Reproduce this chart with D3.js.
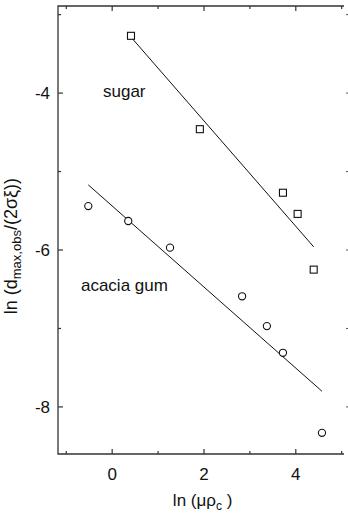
<!DOCTYPE html>
<html>
<head>
<meta charset="utf-8">
<script src="https://cdn.jsdelivr.net/npm/d3@7"></script>
<style>
  body { margin: 0; background: #fff; }
  text { font-family: "Liberation Sans", Arial, sans-serif; fill: #111; }
</style>
</head>
<body>
<div id="chart"></div>
<script>
// data
var sugarX = [0.41, 1.91, 3.72, 4.04, 4.39];
var sugarY = [-3.27, -4.46, -5.27, -5.54, -6.25];
var sugarFitX = [0.43, 4.39];
var sugarFitY = [-3.30, -5.96];

var gumX = [-0.52, 0.35, 1.26, 2.83, 3.37, 3.72, 4.57];
var gumY = [-5.44, -5.63, -5.97, -6.59, -6.97, -7.31, -8.33];
var gumFitX = [-0.52, 4.57];
var gumFitY = [-5.17, -7.80];

var xMajor = [0, 2, 4];
var xMinor = [-1, 1, 3, 5];
var yMajor = [-8, -6, -4];
var yMinor = [-7, -5, -3];

var W = 348, H = 515;
var margin = {top: 6, right: 4, bottom: 61, left: 58},
    width = W - margin.left - margin.right,
    height = H - margin.top - margin.bottom;

var svg = d3.select("#chart").append("svg")
  .attr("width", W).attr("height", H)
  .append("g")
  .attr("transform", "translate(" + margin.left + "," + margin.top + ")");

var x = d3.scaleLinear().domain([-1.18, 5.05]).range([0, width]);
var y = d3.scaleLinear().domain([-8.6, -2.89]).range([height, 0]);

// frame (no visible right side)
svg.append("path")
  .attr("d", "M" + width + ",0H0V" + height + "H" + width)
  .attr("fill", "none").attr("stroke", "#333").attr("stroke-width", 1.3);

// ticks, pointing inward
function xTicks(vals, len) {
  vals.forEach(function(v) {
    svg.append("line").attr("x1", x(v)).attr("x2", x(v))
      .attr("y1", height).attr("y2", height - len)
      .attr("stroke", "#333").attr("stroke-width", 1.2);
    svg.append("line").attr("x1", x(v)).attr("x2", x(v))
      .attr("y1", 0).attr("y2", len)
      .attr("stroke", "#333").attr("stroke-width", 1.2);
  });
}
function yTicks(vals, len) {
  vals.forEach(function(v) {
    svg.append("line").attr("x1", 0).attr("x2", len)
      .attr("y1", y(v)).attr("y2", y(v))
      .attr("stroke", "#333").attr("stroke-width", 1.2);
    svg.append("line").attr("x1", width + 2).attr("x2", width + 4)
      .attr("y1", y(v)).attr("y2", y(v))
      .attr("stroke", "#555").attr("stroke-width", 1);
  });
}
xTicks(xMajor, 5);
xTicks(xMinor, 3);
yTicks(yMajor, 5);
yTicks(yMinor, 3);

// tick labels
svg.selectAll(".xl").data(xMajor).enter().append("text")
  .attr("x", function(d) { return x(d); })
  .attr("y", height + 26)
  .attr("text-anchor", "middle")
  .style("font-size", "17px")
  .text(function(d) { return d; });

svg.selectAll(".yl").data(yMajor).enter().append("text")
  .attr("x", -8)
  .attr("y", function(d) { return y(d) + 6; })
  .attr("text-anchor", "end")
  .style("font-size", "17px")
  .text(function(d) { return d; });

// axis titles
var xt = svg.append("text")
  .attr("x", x(1.97)).attr("y", height + 52)
  .attr("text-anchor", "middle")
  .style("font-size", "17px");
xt.append("tspan").text("ln (μρ");
xt.append("tspan").attr("dy", 4).style("font-size", "12px").text("c");
xt.append("tspan").attr("dy", -4).text(" )");

var yt = svg.append("text")
  .attr("transform", "translate(" + (-41) + "," + (y(-5.95)) + ") rotate(-90)")
  .attr("text-anchor", "middle")
  .style("font-size", "18px");
yt.append("tspan").text("ln (d");
yt.append("tspan").attr("dy", 4).style("font-size", "13px").text("max,obs");
yt.append("tspan").attr("dy", -4).text("/(2σξ))");

// fit lines
var line = d3.line().x(function(d) { return x(d[0]); }).y(function(d) { return y(d[1]); });
svg.append("path").datum(d3.zip(sugarFitX, sugarFitY))
  .attr("d", line).attr("fill", "none").attr("stroke", "#111").attr("stroke-width", 1);
svg.append("path").datum(d3.zip(gumFitX, gumFitY))
  .attr("d", line).attr("fill", "none").attr("stroke", "#111").attr("stroke-width", 1);

// markers
svg.selectAll(".sq").data(d3.zip(sugarX, sugarY)).enter().append("rect")
  .attr("x", function(d) { return x(d[0]) - 3.5; })
  .attr("y", function(d) { return y(d[1]) - 3.5; })
  .attr("width", 7).attr("height", 7)
  .attr("fill", "#fff").attr("stroke", "#111").attr("stroke-width", 1.1);

svg.selectAll(".ci").data(d3.zip(gumX, gumY)).enter().append("circle")
  .attr("cx", function(d) { return x(d[0]); })
  .attr("cy", function(d) { return y(d[1]); })
  .attr("r", 3.6)
  .attr("fill", "#fff").attr("stroke", "#111").attr("stroke-width", 1.1);

// series labels
svg.append("text").attr("x", x(-0.2)).attr("y", y(-4.05))
  .style("font-size", "17px").text("sugar");
svg.append("text").attr("x", x(-0.68)).attr("y", y(-6.52))
  .style("font-size", "17px").text("acacia gum");
</script>
</body>
</html>
